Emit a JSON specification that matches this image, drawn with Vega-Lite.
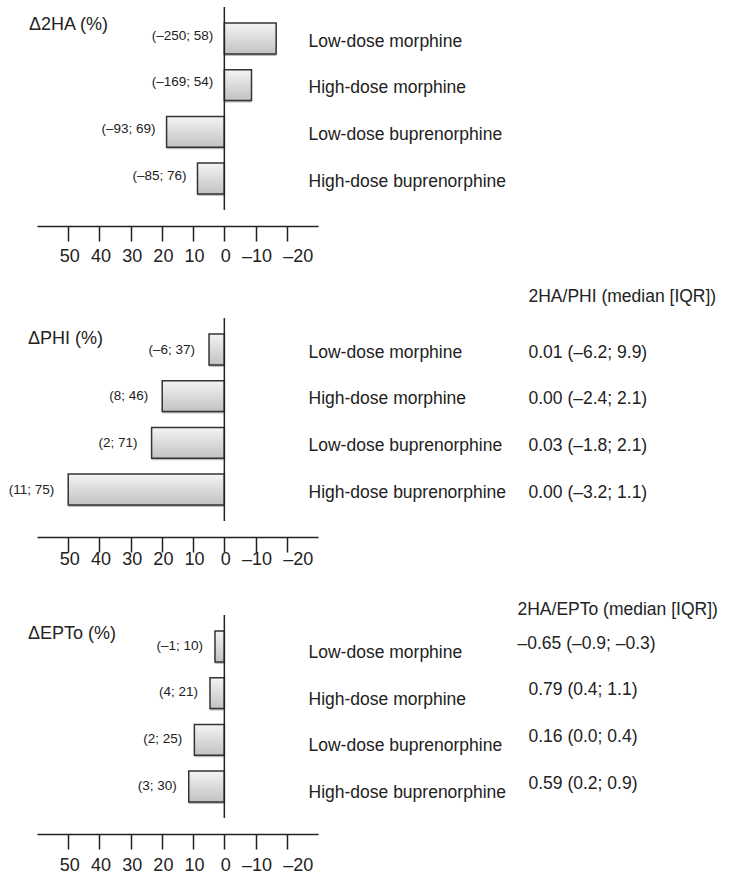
{
  "$schema": "https://vega.github.io/schema/vega-lite/v6.json",
  "background": "white",
  "padding": {"left": 8, "top": 6, "right": 5, "bottom": 5},
  "datasets": {
    "ha": [
      {"drug": "Low-dose morphine", "value": -16.6, "iqr": "(–250; 58)"},
      {"drug": "High-dose morphine", "value": -8.7, "iqr": "(–169; 54)"},
      {"drug": "Low-dose buprenorphine", "value": 18.5, "iqr": "(–93; 69)"},
      {"drug": "High-dose buprenorphine", "value": 8.6, "iqr": "(–85; 76)"}
    ],
    "phi": [
      {"drug": "Low-dose morphine", "value": 4.9, "iqr": "(–6; 37)", "ratio": "0.01 (–6.2; 9.9)"},
      {"drug": "High-dose morphine", "value": 19.9, "iqr": "(8; 46)", "ratio": "0.00 (–2.4; 2.1)"},
      {"drug": "Low-dose buprenorphine", "value": 23.3, "iqr": "(2; 71)", "ratio": "0.03 (–1.8; 2.1)"},
      {"drug": "High-dose buprenorphine", "value": 50, "iqr": "(11; 75)", "ratio": "0.00 (–3.2; 1.1)"}
    ],
    "epto": [
      {"drug": "Low-dose morphine", "value": 3.0, "iqr": "(–1; 10)", "ratio": "–0.65 (–0.9; –0.3)"},
      {"drug": "High-dose morphine", "value": 4.6, "iqr": "(4; 21)", "ratio": "0.79 (0.4; 1.1)"},
      {"drug": "Low-dose buprenorphine", "value": 9.6, "iqr": "(2; 25)", "ratio": "0.16 (0.0; 0.4)"},
      {"drug": "High-dose buprenorphine", "value": 11.4, "iqr": "(3; 30)", "ratio": "0.59 (0.2; 0.9)"}
    ]
  },
  "spacing": 108,
  "bounds": "flush",
  "vconcat": [
    {
      "width": 281,
      "height": 203,
      "data": {"name": "ha"},
      "layer": [
        {
          "mark": {"type": "bar", "fill": "#a0a0a0", "opacity": 0.7, "yOffset": 2, "stroke": null},
          "encoding": {
            "x": {"field": "value", "type": "quantitative", "scale": {"domain": [-30, 60], "reverse": true, "nice": false, "zero": true},
              "axis": {"values": [-20, -10, 0, 10, 20, 30, 40, 50], "title": null, "offset": 16, "grid": false, "domainColor": "#222", "domainWidth": 1.5, "tickColor": "#222", "tickWidth": 1.5, "tickSize": 15, "labelFontSize": 18, "labelColor": "#222", "labelPadding": 6.5, "labelFlush": false, "labelOverlap": false,
                "labelExpr": "replace(datum.label, '−', '–')",
                "labelOffset": {"condition": {"test": "datum.value == -20", "value": 11}, "value": 1}}},
            "y": {"field": "drug", "type": "nominal", "scale": {"type": "band", "domain": ["Low-dose morphine", "High-dose morphine", "Low-dose buprenorphine", "High-dose buprenorphine"], "paddingInner": 0.34, "paddingOuter": 0.345},
              "axis": {"orient": "right", "title": null, "domain": false, "ticks": false, "grid": false, "labelPadding": -10, "labelAlign": "left", "labelBaseline": "middle", "labelFontSize": 17.5, "labelColor": "#222", "labelOffset": 3, "labelLimit": 0}}
          }
        },
        {
          "mark": {"type": "bar", "stroke": "#333", "strokeWidth": 1.5,
            "fill": {"gradient": "linear", "x1": 0, "y1": 0, "x2": 0, "y2": 1, "stops": [{"offset": 0, "color": "#f4f4f4"}, {"offset": 1, "color": "#c2c2c2"}]}},
          "encoding": {
            "x": {"field": "value", "type": "quantitative"},
            "y": {"field": "drug", "type": "nominal"}
          }
        },
        {
          "data": {"values": [{"zero": 0}]},
          "mark": {"type": "rule", "color": "#222", "strokeWidth": 1.5},
          "encoding": {"x": {"field": "zero", "type": "quantitative"}}
        },
        {
          "transform": [{"filter": "datum.value < 0"}],
          "mark": {"type": "text", "align": "right", "baseline": "middle", "dx": -11, "dy": -3, "fontSize": 13.5, "color": "#222"},
          "encoding": {"x": {"datum": 0}, "y": {"field": "drug", "type": "nominal"}, "text": {"field": "iqr"}}
        },
        {
          "transform": [{"filter": "datum.value >= 0"}],
          "mark": {"type": "text", "align": "right", "baseline": "middle", "dx": -11, "dy": -3, "fontSize": 13.5, "color": "#222"},
          "encoding": {"x": {"field": "value", "type": "quantitative"}, "y": {"field": "drug", "type": "nominal"}, "text": {"field": "iqr"}}
        },
        {
          "data": {"values": [{"label": "Δ2HA (%)", "drug": "Low-dose morphine", "edge": 60}]},
          "mark": {"type": "text", "align": "left", "baseline": "middle", "dx": -8, "dy": -14, "fontSize": 18, "color": "#222"},
          "encoding": {"x": {"field": "edge", "type": "quantitative"}, "y": {"field": "drug", "type": "nominal"}, "text": {"field": "label"}}
        }
      ]
    },
    {
      "spacing": 94,
      "bounds": "flush",
      "vconcat": [
        {
          "width": 281,
          "height": 203,
          "resolve": {"scale": {"y": "independent"}},
          "layer": [
            {
              "data": {"name": "phi"},
              "layer": [
                {
                  "mark": {"type": "bar", "fill": "#a0a0a0", "opacity": 0.7, "yOffset": 2, "stroke": null},
                  "encoding": {
                    "x": {"field": "value", "type": "quantitative", "scale": {"domain": [-30, 60], "reverse": true, "nice": false, "zero": true},
                      "axis": {"values": [-20, -10, 0, 10, 20, 30, 40, 50], "title": null, "offset": 16, "grid": false, "domainColor": "#222", "domainWidth": 1.5, "tickColor": "#222", "tickWidth": 1.5, "tickSize": 15, "labelFontSize": 18, "labelColor": "#222", "labelPadding": -2, "labelFlush": false, "labelOverlap": false,
                        "labelExpr": "replace(datum.label, '−', '–')",
                        "labelOffset": {"condition": {"test": "datum.value == -20", "value": 11}, "value": 1}}},
                    "y": {"field": "drug", "type": "nominal", "scale": {"type": "band", "domain": ["Low-dose morphine", "High-dose morphine", "Low-dose buprenorphine", "High-dose buprenorphine"], "paddingInner": 0.34, "paddingOuter": 0.345},
                      "axis": {"orient": "right", "title": null, "domain": false, "ticks": false, "grid": false, "labelPadding": -10, "labelAlign": "left", "labelBaseline": "middle", "labelFontSize": 17.5, "labelColor": "#222", "labelOffset": 3, "labelLimit": 0}}
                  }
                },
                {
                  "mark": {"type": "bar", "stroke": "#333", "strokeWidth": 1.5,
                    "fill": {"gradient": "linear", "x1": 0, "y1": 0, "x2": 0, "y2": 1, "stops": [{"offset": 0, "color": "#f4f4f4"}, {"offset": 1, "color": "#c2c2c2"}]}},
                  "encoding": {
                    "x": {"field": "value", "type": "quantitative"},
                    "y": {"field": "drug", "type": "nominal"}
                  }
                },
                {
                  "data": {"values": [{"zero": 0}]},
                  "mark": {"type": "rule", "color": "#222", "strokeWidth": 1.5},
                  "encoding": {"x": {"field": "zero", "type": "quantitative"}}
                },
                {
                  "transform": [{"filter": "datum.value < 0"}],
                  "mark": {"type": "text", "align": "right", "baseline": "middle", "dx": -14, "dy": 0, "fontSize": 13.5, "color": "#222"},
                  "encoding": {"x": {"datum": 0}, "y": {"field": "drug", "type": "nominal"}, "text": {"field": "iqr"}}
                },
                {
                  "transform": [{"filter": "datum.value >= 0"}],
                  "mark": {"type": "text", "align": "right", "baseline": "middle", "dx": -14, "dy": 0, "fontSize": 13.5, "color": "#222"},
                  "encoding": {"x": {"field": "value", "type": "quantitative"}, "y": {"field": "drug", "type": "nominal"}, "text": {"field": "iqr"}}
                },
                {
                  "data": {"values": [{"label": "ΔPHI (%)", "drug": "Low-dose morphine", "edge": 60}]},
                  "mark": {"type": "text", "align": "left", "baseline": "middle", "dx": -9, "dy": -11, "fontSize": 18, "color": "#222"},
                  "encoding": {"x": {"field": "edge", "type": "quantitative"}, "y": {"field": "drug", "type": "nominal"}, "text": {"field": "label"}}
                }
              ]
            },
            {
              "data": {"name": "phi"},
              "mark": {"type": "text", "text": ""},
              "encoding": {
                "y": {"field": "ratio", "type": "nominal", "sort": null, "scale": {"type": "band", "paddingInner": 0.34, "paddingOuter": 0.345},
                  "axis": {"orient": "right", "title": "2HA/PHI (median [IQR])", "titleAngle": 0, "titleAlign": "left", "titleBaseline": "middle", "titleX": 210, "titleY": -22, "titleFontSize": 17.5, "titleFontWeight": "normal", "titleColor": "#222", "domain": false, "ticks": false, "grid": false, "labelPadding": 210, "labelAlign": "left", "labelBaseline": "middle", "labelFontSize": 17.5, "labelColor": "#222", "labelOffset": 3, "labelLimit": 0}}
              }
            }
          ]
        },
        {
          "width": 281,
          "height": 203,
          "resolve": {"scale": {"y": "independent"}},
          "layer": [
            {
              "data": {"name": "epto"},
              "layer": [
                {
                  "mark": {"type": "bar", "fill": "#a0a0a0", "opacity": 0.7, "yOffset": 2, "stroke": null},
                  "encoding": {
                    "x": {"field": "value", "type": "quantitative", "scale": {"domain": [-30, 60], "reverse": true, "nice": false, "zero": true},
                      "axis": {"values": [-20, -10, 0, 10, 20, 30, 40, 50], "title": null, "offset": 16, "grid": false, "domainColor": "#222", "domainWidth": 1.5, "tickColor": "#222", "tickWidth": 1.5, "tickSize": 15, "labelFontSize": 18, "labelColor": "#222", "labelPadding": 7, "labelFlush": false, "labelOverlap": false,
                        "labelExpr": "replace(datum.label, '−', '–')",
                        "labelOffset": {"condition": {"test": "datum.value == -20", "value": 11}, "value": 1}}},
                    "y": {"field": "drug", "type": "nominal", "scale": {"type": "band", "domain": ["Low-dose morphine", "High-dose morphine", "Low-dose buprenorphine", "High-dose buprenorphine"], "paddingInner": 0.34, "paddingOuter": 0.345},
                      "axis": {"orient": "right", "title": null, "domain": false, "ticks": false, "grid": false, "labelPadding": -10, "labelAlign": "left", "labelBaseline": "middle", "labelFontSize": 17.5, "labelColor": "#222", "labelOffset": 6.5, "labelLimit": 0}}
                  }
                },
                {
                  "mark": {"type": "bar", "stroke": "#333", "strokeWidth": 1.5,
                    "fill": {"gradient": "linear", "x1": 0, "y1": 0, "x2": 0, "y2": 1, "stops": [{"offset": 0, "color": "#f4f4f4"}, {"offset": 1, "color": "#c2c2c2"}]}},
                  "encoding": {
                    "x": {"field": "value", "type": "quantitative"},
                    "y": {"field": "drug", "type": "nominal"}
                  }
                },
                {
                  "data": {"values": [{"zero": 0}]},
                  "mark": {"type": "rule", "color": "#222", "strokeWidth": 1.5},
                  "encoding": {"x": {"field": "zero", "type": "quantitative"}}
                },
                {
                  "transform": [{"filter": "datum.value < 0"}],
                  "mark": {"type": "text", "align": "right", "baseline": "middle", "dx": -12, "dy": -1, "fontSize": 13.5, "color": "#222"},
                  "encoding": {"x": {"datum": 0}, "y": {"field": "drug", "type": "nominal"}, "text": {"field": "iqr"}}
                },
                {
                  "transform": [{"filter": "datum.value >= 0"}],
                  "mark": {"type": "text", "align": "right", "baseline": "middle", "dx": -12, "dy": -1, "fontSize": 13.5, "color": "#222"},
                  "encoding": {"x": {"field": "value", "type": "quantitative"}, "y": {"field": "drug", "type": "nominal"}, "text": {"field": "iqr"}}
                },
                {
                  "data": {"values": [{"label": "ΔEPTo (%)", "drug": "Low-dose morphine", "edge": 60}]},
                  "mark": {"type": "text", "align": "left", "baseline": "middle", "dx": -9, "dy": -13, "fontSize": 18, "color": "#222"},
                  "encoding": {"x": {"field": "edge", "type": "quantitative"}, "y": {"field": "drug", "type": "nominal"}, "text": {"field": "label"}}
                }
              ]
            },
            {
              "data": {"name": "epto"},
              "mark": {"type": "text", "text": ""},
              "encoding": {
                "y": {"field": "ratio", "type": "nominal", "sort": null, "scale": {"type": "band", "paddingInner": 0.34, "paddingOuter": 0.345},
                  "axis": {"orient": "right", "title": "2HA/EPTo (median [IQR])", "titleAngle": 0, "titleAlign": "left", "titleBaseline": "middle", "titleX": 199, "titleY": -6, "titleFontSize": 17.5, "titleFontWeight": "normal", "titleColor": "#222", "domain": false, "ticks": false, "grid": false,
                    "labelPadding": {"condition": {"test": "indexof(datum.value, '–') == 0", "value": 199}, "value": 210},
                    "labelAlign": "left", "labelBaseline": "middle", "labelFontSize": 17.5, "labelColor": "#222", "labelOffset": -3, "labelLimit": 0}}
              }
            }
          ]
        }
      ]
    }
  ],
  "config": {
    "view": {"stroke": null},
    "font": "Liberation Sans",
    "axis": {"grid": false}
  }
}
